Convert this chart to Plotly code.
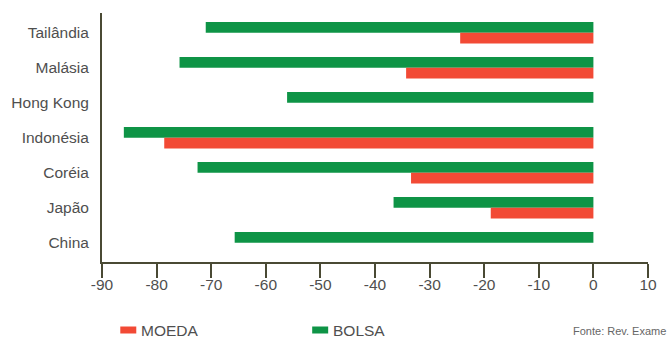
import plotly.graph_objects as go

# Queda acumulada (%) por país
paises = ["Tailândia", "Malásia", "Hong Kong", "Indonésia", "Coréia", "Japão", "China"]
bolsa = [-71.0, -75.8, -56.1, -86.0, -72.5, -36.6, -65.7]
moeda = [-24.4, -34.3, 0, -78.6, -33.4, -18.8, 0]
x_ticks = list(range(-90, 11, 10))

VERDE = "#0e9446"
VERMELHO = "#f24a35"
EIXO = "#4a4a34"
TEXTO = "#4f4f4f"
FONTE = "Liberation Sans, Arial, sans-serif"

W, H = 670, 339
ML, MR, MT, MB = 101.7, 22, 13, 77
PW, PH = W - ML - MR, H - MT - MB


def px_x(x):
    return (x - ML) / PW


def px_y(y):
    return (H - MB - y) / PH


fig = go.Figure()
fig.add_trace(go.Bar(y=paises, x=bolsa, name="BOLSA", orientation="h",
                     marker=dict(color=VERDE, line=dict(width=0)), showlegend=False))
fig.add_trace(go.Bar(y=paises, x=moeda, name="MOEDA", orientation="h",
                     marker=dict(color=VERMELHO, line=dict(width=0)), showlegend=False))

fig.update_layout(
    width=W, height=H,
    margin=dict(l=ML, r=MR, t=MT, b=MB, pad=0),
    paper_bgcolor="white", plot_bgcolor="white",
    barmode="group", bargap=0.39, bargroupgap=0,
    font=dict(family=FONTE, color=TEXTO),
    xaxis=dict(range=[-90, 10], tickvals=x_ticks, ticktext=[str(v) for v in x_ticks],
               showgrid=False, zeroline=False, showline=True, linecolor=EIXO, linewidth=2,
               ticks="outside", ticklen=14, tickwidth=2, tickcolor=EIXO,
               tickfont=dict(size=15.5, color=TEXTO), ticklabelstandoff=-7),
    yaxis=dict(type="category", categoryorder="array", categoryarray=paises,
               range=[6.551, -0.563], showgrid=False, zeroline=False,
               showline=True, linecolor=EIXO, linewidth=2, ticks="",
               tickfont=dict(size=15.5, color=TEXTO), ticklabelstandoff=8),
)

# Legenda desenhada à mão: retângulos coloridos + rótulos
legenda = [("MOEDA", VERMELHO, 120), ("BOLSA", VERDE, 312)]
for nome, cor, x0 in legenda:
    fig.add_shape(type="rect", xref="paper", yref="paper",
                  x0=px_x(x0), x1=px_x(x0 + 16), y0=px_y(333.5), y1=px_y(326.5),
                  fillcolor=cor, line=dict(width=0))
    fig.add_annotation(text=nome, xref="paper", yref="paper",
                       x=px_x(x0 + 19), y=px_y(330.5), xanchor="left", yanchor="middle",
                       showarrow=False, font=dict(size=15.5, color=TEXTO))

fig.add_annotation(text="Fonte: Rev. Exame", xref="paper", yref="paper",
                   x=px_x(668), y=px_y(331), xanchor="right", yanchor="middle",
                   showarrow=False, font=dict(size=11, color="#666666"))

fig.write_html("out.html")
